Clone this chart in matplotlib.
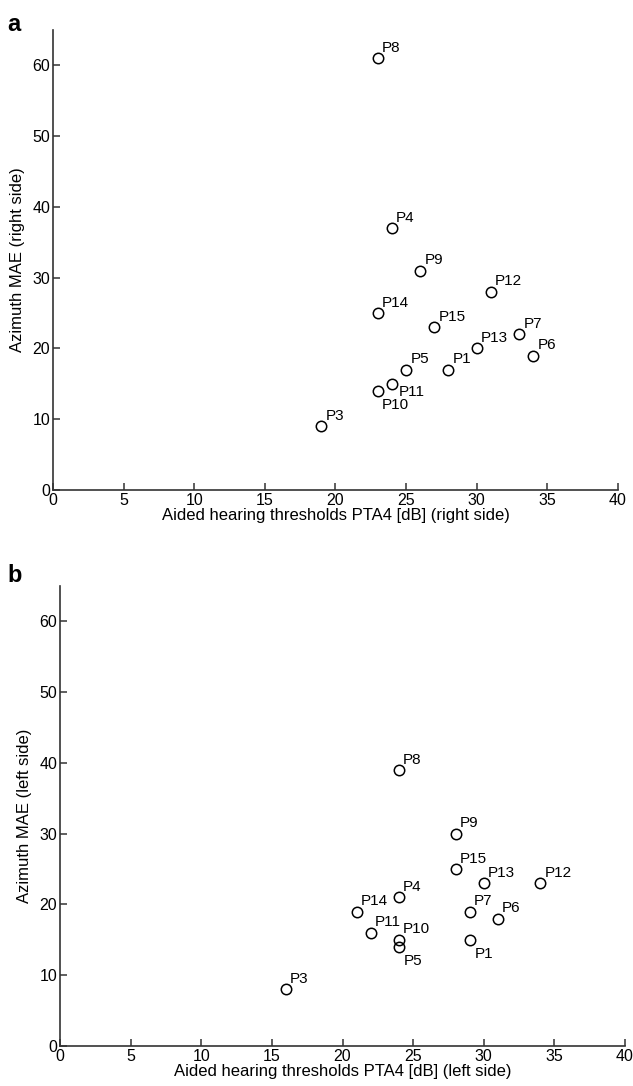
import matplotlib
matplotlib.use("agg")
import matplotlib.pyplot as plt

plt.rcParams['font.family'] = ['Liberation Sans', 'DejaVu Sans']

# right side (panel a)
names_r = ["P1", "P3", "P4", "P5", "P6", "P7", "P8", "P9", "P10", "P11", "P12", "P13", "P14", "P15"]
pta_r = [28, 19, 24, 25, 34, 33, 23, 26, 23, 24, 31, 30, 23, 27]
mae_r = [17, 9, 37, 17, 19, 22, 61, 31, 14, 15, 28, 20, 25, 23]

# left side (panel b)
names_l = ["P1", "P3", "P4", "P5", "P6", "P7", "P8", "P9", "P10", "P11", "P12", "P13", "P14", "P15"]
pta_l = [29, 16, 24, 24, 31, 29, 24, 28, 24, 22, 34, 30, 21, 28]
mae_l = [15, 8, 21, 14, 18, 19, 39, 30, 15, 16, 23, 23, 19, 25]

# labels drawn below the marker instead of above
below_r = {"P11": (5, -0.5), "P10": (3, -5)}
below_l = {"P5": (3.5, -5), "P1": (3.5, -5)}

fig = plt.figure(figsize=(6.33, 10.86), dpi=100)
ax1 = fig.add_axes([0.0837, 0.5488, 0.8926, 0.4236])
ax2 = fig.add_axes([0.0948, 0.0368, 0.8926, 0.4236])


def draw(ax, x, y, names, below, xlabel, ylabel):
    ax.plot(x, y, 'o', mfc='none', mec='black', ms=7.5, mew=1.1)
    for xi, yi, n in zip(x, y, names):
        if n in below:
            dx, dy = below[n]
            ax.annotate(n, (xi, yi), xytext=(dx, dy), textcoords='offset points',
                        ha='left', va='top', fontsize=11)
        else:
            ax.annotate(n, (xi, yi), xytext=(3, 2.5), textcoords='offset points',
                        ha='left', va='bottom', fontsize=11)
    ax.set_xlim(0, 40)
    ax.set_ylim(0, 65)
    ax.set_xticks(range(0, 41, 5))
    ax.set_yticks(range(0, 61, 10))
    ax.spines['top'].set_visible(False)
    ax.spines['right'].set_visible(False)
    for s in ['left', 'bottom']:
        ax.spines[s].set_color('#333333')
        ax.spines[s].set_linewidth(1.2)
    ax.tick_params(direction='in', length=5, width=1.1, labelsize=11.5, pad=2, color='#333333')
    ax.set_xlabel(xlabel, fontsize=12, labelpad=0)
    ax.set_ylabel(ylabel, fontsize=12, labelpad=5)


draw(ax1, pta_r, mae_r, names_r, below_r,
     "Aided hearing thresholds PTA4 [dB] (right side)", "Azimuth MAE (right side)")
draw(ax2, pta_l, mae_l, names_l, below_l,
     "Aided hearing thresholds PTA4 [dB] (left side)", "Azimuth MAE (left side)")

fig.text(0.012, 0.988, "a", fontsize=17, fontweight='bold', va='top')
fig.text(0.012, 0.481, "b", fontsize=17, fontweight='bold', va='top')

plt.savefig("out.png", dpi=100)
plt.close()
